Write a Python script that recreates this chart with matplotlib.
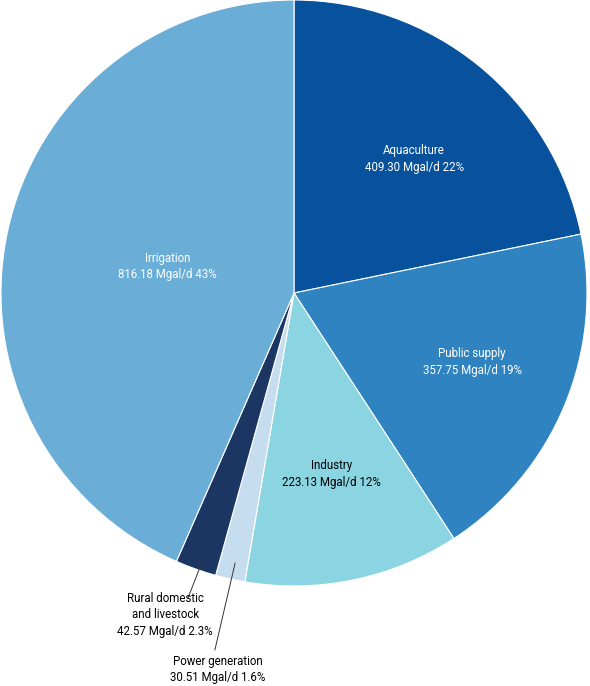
import numpy as np
import matplotlib.pyplot as plt

labels = ['Aquaculture', 'Public supply', 'Industry', 'Power generation',
          'Rural domestic\nand livestock', 'Irrigation']
values = [409.30, 357.75, 223.13, 30.51, 42.57, 816.18]
pct_text = ['22%', '19%', '12%', '1.6%', '2.3%', '43%']
colors = ['#08519c', '#2f83c1', '#8ad5e1', '#c6dcef', '#1c3664', '#6aadd7']

plt.rcParams['font.family'] = ['Roboto', 'DejaVu Sans']

fig = plt.figure(figsize=(5.9, 6.86), dpi=100)
ax = fig.add_axes([1 / 590, 100 / 686, 586 / 590, 586 / 686])
wedges, _ = ax.pie(values, colors=colors, startangle=90, counterclock=False,
                   wedgeprops=dict(edgecolor='white', linewidth=0.8))
ax.set_xlim(-1, 1)
ax.set_ylim(-1, 1)
ax.set_aspect('equal')

# inside labels: (radius factor, angle nudge in degrees)
inside = {0: (0.614, -2.7), 1: (0.652, 1.5), 2: (0.631, 0.0), 5: (0.44, 0.0)}
for i, w in enumerate(wedges):
    if i not in inside:
        continue
    r, dth = inside[i]
    mid = np.deg2rad((w.theta1 + w.theta2) / 2 + dth)
    txt = f'{labels[i]}\n{values[i]:.2f} Mgal/d {pct_text[i]}'
    col = 'white' if i in (0, 1, 5) else 'black'
    ax.text(r * np.cos(mid), r * np.sin(mid), txt, ha='center', va='center',
            fontsize=8.3, color=col, linespacing=1.35)

# outside labels with leader lines: text x, text top y, line start, line end
outside = {4: (-0.44, -1.02, (-0.307, -0.901), (-0.362, -1.041)),
           3: (-0.26, -1.235, (-0.201, -0.922), (-0.27, -1.218))}
for i, (tx, ty, p0, p1) in outside.items():
    ax.plot([p0[0], p1[0]], [p0[1], p1[1]], color='#333333', lw=0.7, clip_on=False)
    txt = f'{labels[i]}\n{values[i]:.2f} Mgal/d {pct_text[i]}'
    ax.text(tx, ty, txt, ha='center', va='top', fontsize=8.3, color='black',
            linespacing=1.35, clip_on=False)

fig.savefig('out.png', dpi=100)
